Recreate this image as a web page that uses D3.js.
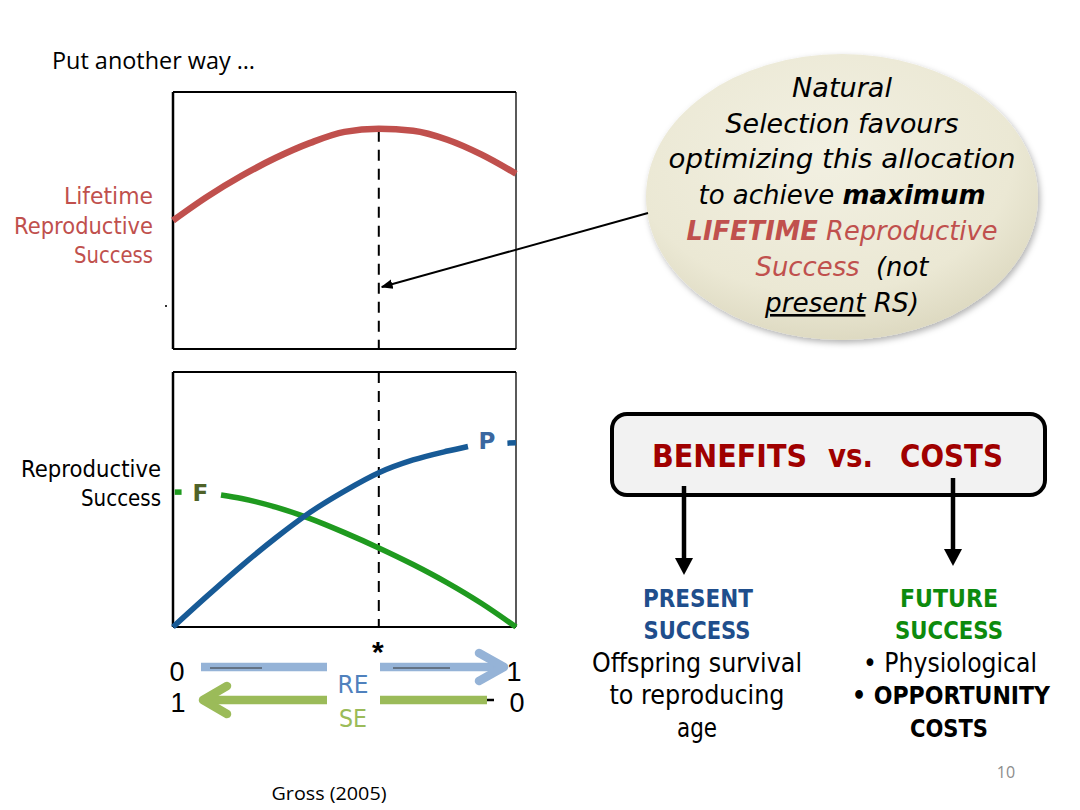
<!DOCTYPE html>
<html><head><meta charset="utf-8">
<script src="https://cdn.jsdelivr.net/npm/d3@7"></script>
<style>html,body{margin:0;padding:0;background:#fff;}svg{display:block;}</style>
</head><body>
<svg id="c" width="1080" height="810"></svg>
<script>
// ---------- data ----------
const allocation = [0, 0.1, 0.2, 0.3, 0.4, 0.5, 0.6, 0.7, 0.8, 0.9, 1.0];
const lifetimeRS = [50, 59.3, 67.4, 74.4, 80.2, 84.5, 85.7, 84.9, 81.4, 75.6, 68.2];
const presentX   = [0, 0.1, 0.2, 0.3, 0.4, 0.5, 0.6, 0.7, 0.8, 0.86];
const presentRS  = [0, 12.2, 24.0, 35.0, 45.0, 53.3, 60.5, 65.5, 69.0, 70.8];
const presentTailX = [0.975, 1.0];
const presentTail  = [72.1, 72.3];
const futureX    = [0.14, 0.2, 0.3, 0.4, 0.5, 0.6, 0.7, 0.8, 0.9, 1.0];
const futureRS   = [51.8, 50.4, 47.0, 42.5, 37.0, 31.0, 24.5, 17.3, 9.2, 0];
const futureHeadX = [0.005, 0.025];
const futureHead  = [52.9, 52.9];
const optimum = 0.6;
const reTicks = ["0", "1"];
const seTicks = ["1", "0"];
const seriesLabels = {P: "P", F: "F"};

const svg = d3.select("#c");
const defs = svg.append("defs");

// ---------- scales ----------
const x = d3.scaleLinear().domain([0, 1]).range([173, 516]);
const yTop = d3.scaleLinear().domain([0, 100]).range([349, 92]);
const yBot = d3.scaleLinear().domain([0, 100]).range([627, 372]);

const tahoma = "'DejaVu Sans', Verdana, sans-serif";

// ---------- title ----------
svg.append("text").attr("x", 52).attr("y", 69)
  .attr("font-family", "'Open Sans', 'Liberation Sans', sans-serif").attr("font-size", 23)
  .attr("textLength", 203).attr("lengthAdjust", "spacingAndGlyphs")
  .text("Put another way …");

// ---------- chart frames ----------
function frame(y0, y1) {
  const g = svg.append("g").attr("stroke", "#000").attr("fill", "none");
  g.append("line").attr("x1", x(0)).attr("x2", x(0)).attr("y1", y0).attr("y2", y1).attr("stroke-width", 2.5);
  g.append("line").attr("x1", x(0)).attr("x2", x(1)).attr("y1", y0).attr("y2", y0).attr("stroke-width", 1.8);
  g.append("line").attr("x1", x(1)).attr("x2", x(1)).attr("y1", y0).attr("y2", y1).attr("stroke-width", 1.3);
  g.append("line").attr("x1", x(0)).attr("x2", x(1)).attr("y1", y1).attr("y2", y1).attr("stroke-width", 1.8);
}
frame(yTop(100), yTop(0));
frame(yBot(100), yBot(0));
svg.append("rect").attr("x", 165).attr("y", 305).attr("width", 2).attr("height", 2).attr("fill", "#333");

// dashed optimum lines
svg.append("line").attr("x1", x(optimum)).attr("x2", x(optimum))
  .attr("y1", yTop(lifetimeRS[6]) + 2).attr("y2", yTop(0))
  .attr("stroke", "#000").attr("stroke-width", 2).attr("stroke-dasharray", "11,8");
svg.append("line").attr("x1", x(optimum)).attr("x2", x(optimum))
  .attr("y1", yBot(100)).attr("y2", yBot(0))
  .attr("stroke", "#000").attr("stroke-width", 2).attr("stroke-dasharray", "11,8");

// ---------- curves ----------
const lineTop = d3.line().x((d, i) => x(allocation[i])).y(d => yTop(d)).curve(d3.curveMonotoneX);
svg.append("path").attr("d", lineTop(lifetimeRS)).attr("fill", "none")
  .attr("stroke", "#c0504d").attr("stroke-width", 6.5);

const lineB = (xs) => d3.line().x((d, i) => x(xs[i])).y(d => yBot(d)).curve(d3.curveMonotoneX);
svg.append("path").attr("d", lineB(futureX)(futureRS)).attr("fill", "none")
  .attr("stroke", "#1f9a1f").attr("stroke-width", 5.5);
svg.append("path").attr("d", lineB(futureHeadX)(futureHead)).attr("fill", "none")
  .attr("stroke", "#1f9a1f").attr("stroke-width", 5.5);
svg.append("path").attr("d", lineB(presentX)(presentRS)).attr("fill", "none")
  .attr("stroke", "#175a96").attr("stroke-width", 5.5);
svg.append("path").attr("d", lineB(presentTailX)(presentTail)).attr("fill", "none")
  .attr("stroke", "#175a96").attr("stroke-width", 5.5);

svg.append("text").attr("x", x(0.915)).attr("y", yBot(71) + 3).attr("text-anchor", "middle")
  .attr("font-family", tahoma).attr("font-weight", "bold").attr("font-size", 23)
  .attr("fill", "#3a67a0").text(seriesLabels.P);
svg.append("text").attr("x", x(0.08)).attr("y", yBot(52.9) + 9).attr("text-anchor", "middle")
  .attr("font-family", tahoma).attr("font-weight", "bold").attr("font-size", 23)
  .attr("fill", "#4f6228").text(seriesLabels.F);

// ---------- y labels ----------
const lrs = svg.append("text").attr("font-family", tahoma).attr("font-size", 23)
  .attr("fill", "#c0504d").attr("text-anchor", "end");
[["Lifetime", 204, 89], ["Reproductive", 234, 139], ["Success", 263, 79]].forEach(([t, yy, w]) =>
  lrs.append("tspan").attr("x", 153).attr("y", yy).attr("textLength", w).attr("lengthAdjust", "spacingAndGlyphs").text(t));
const rs = svg.append("text").attr("font-family", tahoma).attr("font-size", 23)
  .attr("fill", "#000").attr("text-anchor", "end");
[["Reproductive", 477, 140], ["Success", 506, 80]].forEach(([t, yy, w]) =>
  rs.append("tspan").attr("x", 161).attr("y", yy).attr("textLength", w).attr("lengthAdjust", "spacingAndGlyphs").text(t));

// ---------- bottom RE / SE arrows ----------
svg.append("text").attr("x", x(optimum) - 1).attr("y", 662).attr("text-anchor", "middle")
  .attr("font-family", "'Liberation Sans', Arial, sans-serif").attr("font-weight", "bold").attr("font-size", 30)
  .text("*");
const reY = 667, seY = 700;
const gapL = 327, gapR = 380;
// RE (blue) left->right
svg.append("line").attr("x1", x(0) + 28).attr("x2", gapL).attr("y1", reY).attr("y2", reY)
  .attr("stroke", "#95b3d7").attr("stroke-width", 8.5);
svg.append("line").attr("x1", gapR).attr("x2", x(1) - 12).attr("y1", reY).attr("y2", reY)
  .attr("stroke", "#95b3d7").attr("stroke-width", 8.5);
svg.append("polyline").attr("points", `${x(1) - 37},${reY - 14} ${x(1) - 12},${reY} ${x(1) - 37},${reY + 14}`)
  .attr("fill", "none").attr("stroke", "#95b3d7").attr("stroke-width", 8.5)
  .attr("stroke-linecap", "round").attr("stroke-linejoin", "round");
svg.append("line").attr("x1", 210).attr("x2", 262).attr("y1", reY + 1).attr("y2", reY + 1).attr("stroke", "#333").attr("stroke-width", 1);
svg.append("line").attr("x1", 393).attr("x2", 450).attr("y1", reY + 1).attr("y2", reY + 1).attr("stroke", "#333").attr("stroke-width", 1);
// SE (green) right->left
svg.append("line").attr("x1", x(0) + 30).attr("x2", gapL).attr("y1", seY).attr("y2", seY)
  .attr("stroke", "#9bbb59").attr("stroke-width", 8.5);
svg.append("line").attr("x1", gapR).attr("x2", x(1) - 29).attr("y1", seY).attr("y2", seY)
  .attr("stroke", "#9bbb59").attr("stroke-width", 8.5);
svg.append("polyline").attr("points", `${x(0) + 54},${seY - 14} ${x(0) + 30},${seY} ${x(0) + 54},${seY + 14}`)
  .attr("fill", "none").attr("stroke", "#9bbb59").attr("stroke-width", 8.5)
  .attr("stroke-linecap", "round").attr("stroke-linejoin", "round");
svg.append("line").attr("x1", x(1) - 29).attr("x2", x(1) - 22).attr("y1", seY).attr("y2", seY).attr("stroke", "#000").attr("stroke-width", 2.5);

const numFont = "'Liberation Sans', Arial, sans-serif";
reTicks.forEach((t, i) => svg.append("text").attr("x", i ? x(1) - 2 : x(0) + 4).attr("y", 681).attr("text-anchor", "middle")
  .attr("font-family", numFont).attr("font-size", 27).text(t));
seTicks.forEach((t, i) => svg.append("text").attr("x", i ? x(1) + 1 : x(0) + 5).attr("y", 712).attr("text-anchor", "middle")
  .attr("font-family", numFont).attr("font-size", 27).text(t));
svg.append("text").attr("x", 353).attr("y", 693).attr("text-anchor", "middle")
  .attr("font-family", tahoma).attr("font-size", 25).attr("fill", "#4f81bd").attr("textLength", 31).attr("lengthAdjust", "spacingAndGlyphs").text("RE");
svg.append("text").attr("x", 353).attr("y", 727).attr("text-anchor", "middle")
  .attr("font-family", tahoma).attr("font-size", 25).attr("fill", "#9bbb59").attr("textLength", 28).attr("lengthAdjust", "spacingAndGlyphs").text("SE");

svg.append("text").attr("x", 329).attr("y", 800).attr("text-anchor", "middle")
  .attr("font-family", "'Open Sans', 'Liberation Sans', sans-serif").attr("font-size", 19)
  .attr("textLength", 115).attr("lengthAdjust", "spacingAndGlyphs").text("Gross (2005)");
svg.append("text").attr("x", 1006).attr("y", 778).attr("text-anchor", "middle")
  .attr("font-family", "'Open Sans', 'Liberation Sans', sans-serif").attr("font-size", 16)
  .attr("fill", "#8c8c8c").text("10");

// ---------- bubble ----------
const rg = defs.append("radialGradient").attr("id", "bub").attr("cx", "45%").attr("cy", "35%").attr("r", "65%");
rg.append("stop").attr("offset", "0%").attr("stop-color", "#f2f0e2");
rg.append("stop").attr("offset", "75%").attr("stop-color", "#ebe8d4");
rg.append("stop").attr("offset", "100%").attr("stop-color", "#dedac2");
const sh = defs.append("filter").attr("id", "shadow").attr("x", "-20%").attr("y", "-20%").attr("width", "140%").attr("height", "140%");
sh.append("feDropShadow").attr("dx", 2).attr("dy", 3).attr("stdDeviation", 3).attr("flood-color", "#000").attr("flood-opacity", 0.3);
svg.append("ellipse").attr("cx", 842).attr("cy", 197).attr("rx", 196).attr("ry", 143)
  .attr("fill", "url(#bub)").attr("filter", "url(#shadow)");

// arrow from bubble to optimum
const mk = defs.append("marker").attr("id", "ah").attr("viewBox", "0 0 10 10").attr("refX", 9).attr("refY", 5)
  .attr("markerWidth", 6).attr("markerHeight", 6).attr("orient", "auto-start-reverse").attr("markerUnits", "strokeWidth");
mk.append("path").attr("d", "M0,1 L10,5 L0,9 Z").attr("fill", "#000");
svg.append("line").attr("x1", 648).attr("y1", 213).attr("x2", x(optimum) + 3).attr("y2", 287)
  .attr("stroke", "#000").attr("stroke-width", 2).attr("marker-end", "url(#ah)");

const bubLines = [
  {y: 97, w: 100, parts: [{t: "Natural"}]},
  {y: 133, w: 233, parts: [{t: "Selection favours"}]},
  {y: 168, w: 347, parts: [{t: "optimizing this allocation"}]},
  {y: 204, w: 287, parts: [{t: "to achieve "}, {t: "maximum", b: true}]},
  {y: 240, w: 311, parts: [{t: "LIFETIME", b: true, c: "#c0504d"}, {t: " Reproductive", c: "#c0504d"}]},
  {y: 276, w: 173, parts: [{t: "Success", c: "#c0504d"}, {t: "  (not"}]},
  {y: 312, w: 154, parts: [{t: "present", u: true}, {t: " RS)"}]}
];
bubLines.forEach(l => {
  const t = svg.append("text").attr("x", 842).attr("y", l.y).attr("text-anchor", "middle")
    .attr("font-family", tahoma).attr("font-style", "italic").attr("font-size", 26)
    .attr("textLength", l.w).attr("lengthAdjust", "spacingAndGlyphs").attr("xml:space", "preserve");
  l.parts.forEach(p => t.append("tspan").text(p.t)
    .attr("font-weight", p.b ? "bold" : null).attr("fill", p.c || "#000")
    .attr("text-decoration", p.u ? "underline" : null));
});

// ---------- benefits vs costs ----------
svg.append("rect").attr("x", 612).attr("y", 414).attr("width", 433).attr("height", 81).attr("rx", 15)
  .attr("fill", "#f2f2f2").attr("stroke", "#000").attr("stroke-width", 4);
[["BENEFITS", 652, 155], ["vs.", 828, 45], ["COSTS", 900, 103]].forEach(([t, xx, w]) =>
  svg.append("text").attr("x", xx).attr("y", 467)
    .attr("font-family", tahoma).attr("font-weight", "bold").attr("font-size", 32).attr("fill", "#a00000")
    .attr("textLength", w).attr("lengthAdjust", "spacingAndGlyphs").text(t));

function downArrow(ax, y0, y1) {
  svg.append("line").attr("x1", ax).attr("x2", ax).attr("y1", y0).attr("y2", y1 - 14)
    .attr("stroke", "#000").attr("stroke-width", 4.5);
  svg.append("path").attr("d", `M${ax - 9},${y1 - 17} L${ax + 9},${y1 - 17} L${ax},${y1} Z`).attr("fill", "#000");
}
downArrow(684, 486, 575);
downArrow(953, 478, 566);

const rtexts = [
  {x: 698, y: 607, w: 110, t: "PRESENT", b: true, c: "#1f4e8c"},
  {x: 697, y: 639, w: 107, t: "SUCCESS", b: true, c: "#1f4e8c"},
  {x: 949, y: 607, w: 98, t: "FUTURE", b: true, c: "#0d8a0d"},
  {x: 949, y: 639, w: 108, t: "SUCCESS", b: true, c: "#0d8a0d"},
  {x: 697, y: 672, w: 210, t: "Offspring survival", c: "#000"},
  {x: 697, y: 704, w: 175, t: "to reproducing", c: "#000"},
  {x: 697, y: 737, w: 40, t: "age", c: "#000"},
  {x: 950, y: 672, w: 174, t: "• Physiological", c: "#000"},
  {x: 951, y: 704, w: 198, t: "• OPPORTUNITY", b: true, c: "#000"},
  {x: 949, y: 737, w: 78, t: "COSTS", b: true, c: "#000"}
];
rtexts.forEach(r => svg.append("text").attr("x", r.x).attr("y", r.y).attr("text-anchor", "middle")
  .attr("font-family", tahoma).attr("font-size", r.b ? 24 : 26).attr("font-weight", r.b ? "bold" : null)
  .attr("fill", r.c).attr("textLength", r.w).attr("lengthAdjust", "spacingAndGlyphs").text(r.t));
</script>
</body></html>
